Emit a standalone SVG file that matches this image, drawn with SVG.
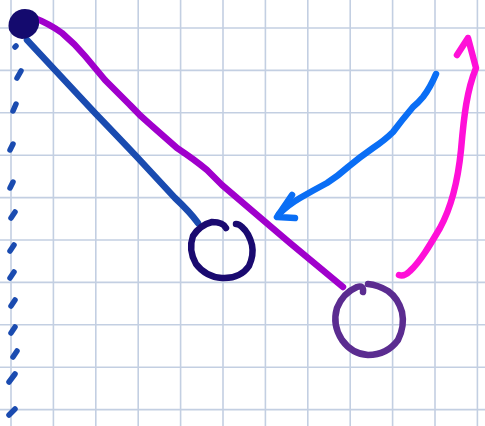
<svg xmlns="http://www.w3.org/2000/svg" width="485" height="426" viewBox="0 0 485 426">
<style>
.grid line{stroke:#c3cfe2;stroke-width:1.6}
.s{fill:none;stroke-width:6.5;stroke-linecap:round;stroke-linejoin:round}
.dash{stroke:#1a4bb0;stroke-width:5.5;stroke-linecap:round;fill:none}
</style>
<rect width="485" height="426" fill="#ffffff"/>
<g class="grid">
<line x1="11" y1="0" x2="11" y2="426"/><line x1="53.4" y1="0" x2="53.4" y2="426"/><line x1="95.8" y1="0" x2="95.8" y2="426"/><line x1="138.2" y1="0" x2="138.2" y2="426"/><line x1="180.6" y1="0" x2="180.6" y2="426"/><line x1="223" y1="0" x2="223" y2="426"/><line x1="265.4" y1="0" x2="265.4" y2="426"/><line x1="307.8" y1="0" x2="307.8" y2="426"/><line x1="350.2" y1="0" x2="350.2" y2="426"/><line x1="392.6" y1="0" x2="392.6" y2="426"/><line x1="435" y1="0" x2="435" y2="426"/><line x1="477.4" y1="0" x2="477.4" y2="426"/>
<line x1="0" y1="28" x2="485" y2="28"/><line x1="0" y1="70.4" x2="485" y2="70.4"/><line x1="0" y1="112.8" x2="485" y2="112.8"/><line x1="0" y1="155.2" x2="485" y2="155.2"/><line x1="0" y1="197.6" x2="485" y2="197.6"/><line x1="0" y1="240" x2="485" y2="240"/><line x1="0" y1="282.4" x2="485" y2="282.4"/><line x1="0" y1="324.8" x2="485" y2="324.8"/><line x1="0" y1="367.2" x2="485" y2="367.2"/><line x1="0" y1="409.6" x2="485" y2="409.6"/>
</g>
<g id="dashes">
<path class="dash" d="M15,47 L16,46"/>
<path class="dash" d="M17,78 L21,71"/>
<path class="dash" d="M13,111 L16,104"/>
<path class="dash" d="M10,150 L13,144"/>
<path class="dash" d="M10,188 L13,182"/>
<path class="dash" d="M11,218 L15,212"/>
<path class="dash" d="M10,251 L14,245"/>
<path class="dash" d="M10,278 L14,272"/>
<path class="dash" d="M11,306 L15,300"/>
<path class="dash" d="M11,333 L15,327"/>
<path class="dash" d="M13,357 L17,351"/>
<path class="dash" d="M9,382 L15,374"/>
<path class="dash" d="M9,415 L15,409"/>
</g>
<g id="connectors">
<path class="s" stroke="#1a4bb0" d="M27,40 L95,113 Q120,139 137,157 L175,198 Q190,212 198,223"/>
<path class="s" stroke="#a000cc" d="M32,17 Q50,24 62,33 Q75,44 85,56 L105,80 L130,105 Q140,116 152,126 L177,148 Q195,160 207,170 Q215,178 222,185 L263,220 L290,243 L343,287"/>
<path class="s" stroke="#0a6ef5" d="M436,74 Q430,88 423,97 Q418,103 413,107 Q402,120 393,132 Q385,140 373,148 Q360,157 348,167 Q338,176 327,183 Q312,191 300,198 Q288,205 279,214"/>
<path class="s" stroke="#0a6ef5" d="M292,195 L277,217 L295,218"/>
<path class="s" stroke="#ff10d8" d="M399,275 Q404,277 410,271 C420,262 430,245 440,228 C452,206 458,180 461,150 C464,115 467,90 476,68 L468,38 L457,55"/>
</g>
<g id="node-blob">
<path fill="#140a6e" d="M25,9 Q34,9 38,16 Q41,25 36,32 Q30,39 22,39 Q13,38 9,30 Q7,21 13,14 Q18,9 25,9 Z"/>
</g>
<g id="node-small-circle">
<path class="s" stroke="#1a0a70" d="M226,228 Q223,222 212,222 Q200,225 193,236 Q188,250 196,264 Q206,277 222,278 Q240,279 249,266 Q254,255 252,245 Q249,233 242,227 Q239,224 236,224"/>
</g>
<g id="node-big-circle">
<path class="s" stroke="#5b2c90" d="M363,292 Q364,285 357,287 Q343,293 337,308 Q332,325 342,340 Q352,354 368,355 Q387,355 398,340 Q405,326 402,312 Q398,298 388,291 Q378,285 368,284"/>
</g>
</svg>
